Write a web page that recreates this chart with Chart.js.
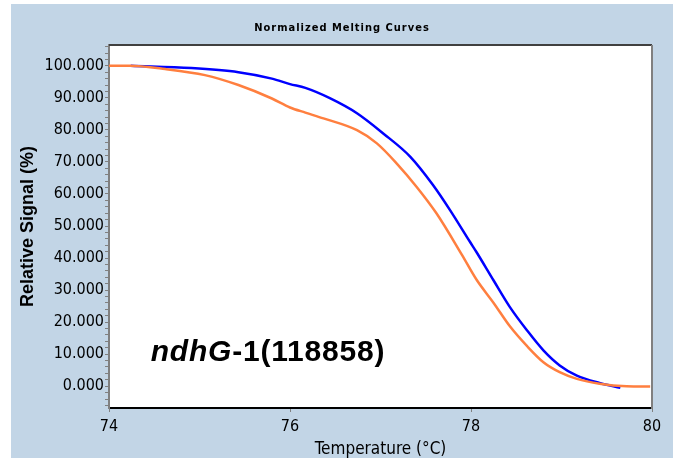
<!DOCTYPE html>
<html>
<head>
<meta charset="utf-8">
<title>Normalized Melting Curves</title>
<script src="https://cdn.jsdelivr.net/npm/chart.js@4/dist/chart.umd.min.js"></script>
<style>
   html, body { margin: 0; padding: 0; background: #ffffff; }
   #wrapper-chart { position: relative; width: 683px; height: 463px; }
</style>
</head>
<body>
<div id="wrapper-chart"><canvas id="melting-chart" width="683" height="463"></canvas></div>
<script>
// Valeurs (température en °C, signal en %)
const orangeTemperatures = [74.00, 74.23, 74.62, 75.06, 75.43, 75.80, 76.00, 76.17, 76.37, 76.74, 76.96, 77.18, 77.40, 77.62, 77.90, 78.06, 78.25, 78.43, 78.62, 78.80, 78.98, 79.17, 79.42, 79.72, 79.98];
const orangeSignals      = [100.0, 100.0, 99.0, 97.1, 94.0, 89.8, 87.0, 85.4, 83.6, 79.9, 75.8, 69.5, 62.2, 53.9, 41.0, 33.3, 26.0, 18.7, 12.5, 7.5, 4.4, 2.3, 0.8, 0.0, -0.1];

const blueTemperatures = [74.24, 74.91, 75.43, 75.80, 76.00, 76.17, 76.44, 76.74, 77.03, 77.33, 77.58, 77.77, 77.99, 78.06, 78.25, 78.43, 78.62, 78.80, 78.98, 79.17, 79.42, 79.65];
const blueSignals      = [100.0, 99.3, 98.0, 96.0, 94.3, 93.1, 89.9, 85.2, 78.9, 71.6, 62.8, 54.9, 45.0, 41.9, 33.0, 24.7, 17.4, 11.2, 6.5, 3.3, 1.0, -0.5];

const xTickValues = [74, 76, 78, 80];
const yTickValues = [0, 10, 20, 30, 40, 50, 60, 70, 80, 90, 100];
const yTickLabels = ['0.000', '10.000', '20.000', '30.000', '40.000', '50.000', '60.000', '70.000', '80.000', '90.000', '100.000'];

const chartTitle = 'Normalized Melting Curves';
const sampleName = 'ndhG';
const sampleSuffix = '-1(118858)';
const sampleLabelAt = { x: 74.46, y: 8.0 };

const narrowFont = "'Liberation Sans Narrow', 'DejaVu Sans Condensed', 'Arial Narrow', sans-serif";
const boldFont = "'Liberation Sans', Arial, sans-serif";
const panelColor = '#c2d5e6';

function toPoints(temperatures, signals) {
   return temperatures.map((t, i) => ({ x: t, y: signals[i] }));
}

const meltingFrame = {
   id: 'meltingFrame',
   beforeDraw(chart) {
      const ctx = chart.ctx;
      const area = chart.chartArea;
      ctx.save();
      ctx.fillStyle = '#ffffff';
      ctx.fillRect(0, 0, chart.width, chart.height);
      ctx.fillStyle = panelColor;
      ctx.fillRect(11, 4, 662, 454);
      ctx.fillStyle = '#ffffff';
      ctx.fillRect(area.left, area.top, area.right - area.left, area.bottom - area.top);
      ctx.restore();
   },
   afterDraw(chart) {
      const ctx = chart.ctx;
      const area = chart.chartArea;
      ctx.save();
      // bord haut et bord droit du cadre
      ctx.lineWidth = 2;
      ctx.strokeStyle = '#404040';
      ctx.beginPath();
      ctx.moveTo(area.left, area.top);
      ctx.lineTo(area.right, area.top);
      ctx.stroke();
      ctx.strokeStyle = '#808080';
      ctx.beginPath();
      ctx.moveTo(area.right, area.top);
      ctx.lineTo(area.right, area.bottom + 1);
      ctx.stroke();

      // titre
      ctx.fillStyle = '#000000';
      ctx.font = "bold 11px " + narrowFont;
      ctx.letterSpacing = '1px';
      ctx.textAlign = 'center';
      ctx.textBaseline = 'middle';
      ctx.fillText(chartTitle, 342, 28);

      // nom de l'échantillon
      ctx.letterSpacing = '0.8px';
      ctx.textAlign = 'left';
      ctx.textBaseline = 'alphabetic';
      let x = chart.scales.x.getPixelForValue(sampleLabelAt.x);
      const y = chart.scales.y.getPixelForValue(sampleLabelAt.y);
      ctx.font = "italic bold 30px " + boldFont;
      ctx.fillText(sampleName, x, y);
      x += ctx.measureText(sampleName).width;
      ctx.font = "bold 30px " + boldFont;
      ctx.fillText(sampleSuffix, x, y);
      ctx.restore();
   }
};

const meltingChart = new Chart(document.getElementById('melting-chart'), {
   type: 'line',
   data: {
      datasets: [{
         label: 'orange',
         data: toPoints(orangeTemperatures, orangeSignals),
         borderColor: '#ff7f3f',
         borderWidth: 2.5,
         cubicInterpolationMode: 'monotone',
         pointRadius: 0
      }, {
         label: 'blue',
         data: toPoints(blueTemperatures, blueSignals),
         borderColor: '#0000ff',
         borderWidth: 2.5,
         cubicInterpolationMode: 'monotone',
         pointRadius: 0
      }]
   },
   options: {
      responsive: false,
      animation: false,
      devicePixelRatio: 1,
      layout: { padding: { left: 0, right: 31, top: 45, bottom: 0 } },
      plugins: {
         legend: { display: false },
         tooltip: { enabled: false }
      },
      scales: {
         x: {
            type: 'linear',
            min: 74,
            max: 80,
            afterBuildTicks: scale => { scale.ticks = xTickValues.map(v => ({ value: v })); },
            afterFit: scale => { scale.height = 55; },
            ticks: {
               autoSkip: false,
               maxRotation: 0,
               padding: 5,
               color: '#000000',
               font: { family: narrowFont, size: 16 },
               callback: value => String(value)
            },
            grid: { drawOnChartArea: false, drawTicks: true, tickLength: 4, tickColor: '#808080' },
            border: { display: true, color: '#000000', width: 2 },
            title: {
               display: true,
               text: 'Temperature (°C)',
               color: '#000000',
               font: { family: narrowFont, size: 17 },
               padding: { top: 0, bottom: 3 }
            }
         },
         y: {
            type: 'linear',
            min: -6.8,
            max: 106.5,
            afterBuildTicks: scale => {
               const ticks = [];
               for (let v = -6; v <= 106; v += 2) ticks.push({ value: v });
               scale.ticks = ticks;
            },
            afterFit: scale => { scale.width = 109; },
            ticks: {
               autoSkip: false,
               padding: 1,
               color: '#000000',
               font: { family: narrowFont, size: 16 },
               callback: value => {
                  const i = yTickValues.indexOf(value);
                  return i >= 0 ? yTickLabels[i] : '';
               }
            },
            grid: { drawOnChartArea: false, drawTicks: true, tickLength: 4, tickColor: '#808080' },
            border: { display: true, color: '#808080', width: 2 },
            title: {
               display: true,
               text: 'Relative Signal (%)',
               color: '#000000',
               font: { family: boldFont, size: 18, weight: 'bold' },
               padding: { top: 17, bottom: 0 }
            }
         }
      }
   },
   plugins: [meltingFrame]
});
</script>
</body>
</html>
